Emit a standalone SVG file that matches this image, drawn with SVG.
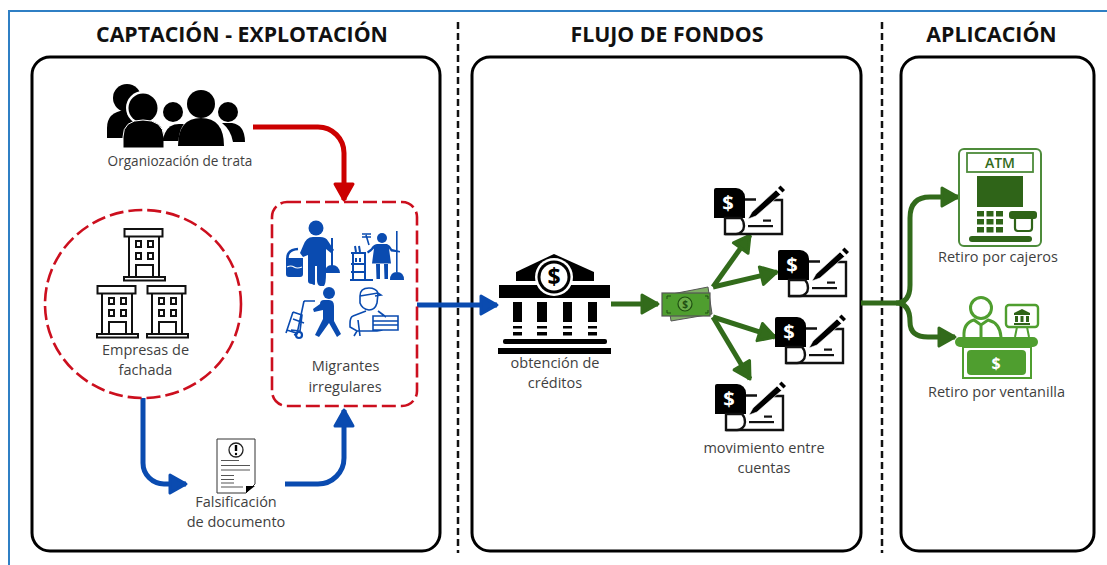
<svg xmlns="http://www.w3.org/2000/svg" xmlns:xlink="http://www.w3.org/1999/xlink" width="1107" height="565" viewBox="0 0 1107 565">
<style>
text{font-family:"Open Sans","Liberation Sans",sans-serif;fill:#3f3f3f;font-size:14.5px;text-anchor:middle}
.title{font-size:21.3px;font-weight:700;fill:#111}
.panel{fill:#fff;stroke:#000;stroke-width:3}
.sep{fill:none;stroke:#111;stroke-width:2.5;stroke-dasharray:7 4}
.reddash{fill:none;stroke:#cc0f1e;stroke-width:2.6;stroke-dasharray:14 5}
.conn{fill:none;stroke-width:5}
.red{stroke:#cc0000}.blue{stroke:#0a4bb0}.green{stroke:#326b1b}
.bl{fill:#0a4bb0}.bs{fill:none;stroke:#0a4bb0;stroke-width:1.6}
.lg{fill:#4f9e2f}.ls{fill:none;stroke:#4f9e2f;stroke-width:3}
.dk{fill:none;stroke:#111;stroke-width:2}
</style>
<defs>
<marker id="hr" markerUnits="userSpaceOnUse" markerWidth="26" markerHeight="26" refX="19" refY="12" orient="auto"><path d="M3 3 L19 12 L3 21Z" fill="#cc0000" stroke="#cc0000" stroke-width="3" stroke-linejoin="round"/></marker>
<marker id="hb" markerUnits="userSpaceOnUse" markerWidth="26" markerHeight="26" refX="19" refY="12" orient="auto"><path d="M3 3 L19 12 L3 21Z" fill="#0a4bb0" stroke="#0a4bb0" stroke-width="3" stroke-linejoin="round"/></marker>
<marker id="hg" markerUnits="userSpaceOnUse" markerWidth="26" markerHeight="26" refX="19" refY="12" orient="auto"><path d="M3 3 L19 12 L3 21Z" fill="#326b1b" stroke="#326b1b" stroke-width="3" stroke-linejoin="round"/></marker>
<symbol id="check" overflow="visible">
<path d="M31 12.500H42M54 13H68V47H11" fill="none" stroke="#111" stroke-width="2.400"/>
<path d="M0 3a2 2 0 0 1 2-2H22a9 9 0 0 1 9 9V31H0Z" fill="#000"/>
<path d="M11 31V47H22a8 8 0 0 0 8-8q0-5-3-8Z" fill="#fff" stroke="#111" stroke-width="2.400"/>
<path d="M34 32l4-7L62 3l4.500 4.500L42 29Z" fill="#000" stroke="#fff" stroke-width="0.600"/>
<path d="M64 1l2.500-2.500l4.500 4.500l-2.500 2.500Z" fill="#000"/>
<rect x="34" y="38" width="25" height="2.200" fill="#111"/>
<rect x="49" y="32.500" width="8" height="2.200" fill="#111"/>
<text x="14" y="23" style="font-size:20px;font-weight:700;fill:#fff">$</text>
</symbol>
<symbol id="bldg" overflow="visible">
<rect x="1.500" y="1" width="38" height="7.500" fill="#fff" stroke="#111" stroke-width="2"/>
<path d="M6 8.500V49M36 8.500V49" class="dk"/>
<rect x="1" y="49" width="41" height="3.500" fill="#fff" stroke="#111" stroke-width="2"/>
<path d="M13 49V37H30V49" class="dk"/>
<g fill="#fff" stroke="#111" stroke-width="2"><rect x="13" y="13" width="5" height="6"/><rect x="25" y="13" width="5" height="6"/><rect x="13" y="25" width="5" height="6"/><rect x="25" y="25" width="5" height="6"/></g>
</symbol>
</defs>
<rect width="1107" height="565" fill="#fff"/>
<path d="M9 565V11H1107" fill="none" stroke="#2f7fc4" stroke-width="2"/>
<text class="title" x="242" y="42">CAPTACIÓN - EXPLOTACIÓN</text>
<text class="title" x="667" y="42">FLUJO DE FONDOS</text>
<text class="title" x="991.500" y="42">APLICACIÓN</text>
<rect class="panel" x="32" y="57" width="408" height="494" rx="18"/>
<rect class="panel" x="472" y="57" width="389" height="494" rx="18"/>
<rect class="panel" x="901" y="57" width="193" height="494" rx="18"/>
<path class="sep" d="M458 22V553"/>
<path class="sep" d="M882 22V553"/>

<g id="connectors">
<path class="conn red" marker-end="url(#hr)" d="M253 127H318a26 26 0 0 1 26 26V200"/>
<path class="conn blue" marker-end="url(#hb)" d="M417 305H497"/>
<path class="conn blue" marker-end="url(#hb)" d="M143 398V463a21 21 0 0 0 21 21H186"/>
<path class="conn blue" marker-end="url(#hb)" d="M285 484H318a26 26 0 0 0 26-26V410"/>
<path class="conn green" marker-end="url(#hg)" d="M611 304H658"/>
<path class="conn green" marker-end="url(#hg)" d="M713 287L750 235"/>
<path class="conn green" marker-end="url(#hg)" d="M713 287L777 272"/>
<path class="conn green" marker-end="url(#hg)" d="M713 317L775 337"/>
<path class="conn green" marker-end="url(#hg)" d="M713 317L750 379"/>
<path class="conn green" marker-end="url(#hg)" d="M861 303H896Q910 303 910 285V218Q910 197 930 197H958"/>
<path class="conn green" marker-end="url(#hg)" d="M896 303Q910 303 910 322Q910 337 928 337H955"/>
</g>

<g id="organizacion">
<circle cx="127" cy="98" r="14"/><path d="M107 138V128q0-16 18-18h10v28Z"/>
<circle cx="143" cy="108" r="17" fill="#fff"/><circle cx="143" cy="108" r="14.500"/>
<path d="M123 148V137q0-17 20-17t21 17v11Z" stroke="#fff" stroke-width="1"/>
<circle cx="173" cy="112" r="10"/><path d="M162 141l3-8q4-9 14-9h14l-12 17Z"/>
<path d="M178 148q0-32 23-32t23 32Z" fill="#fff"/>
<circle cx="201" cy="104" r="14"/><path d="M178 146q0-28 23-28t23 28Z"/>
<circle cx="228" cy="112" r="10"/><path d="M222 123h10q13 2 13 19h-12q-2-12-11-19Z"/>
<text x="180" y="166" style="font-size:13.600px">Organiozación de trata</text>
</g>

<g id="empresas">
<ellipse class="reddash" cx="143" cy="304" rx="98" ry="94"/>
<use xlink:href="#bldg" href="#bldg" x="123" y="228"/>
<use xlink:href="#bldg" href="#bldg" x="96" y="285"/>
<use xlink:href="#bldg" href="#bldg" x="146" y="285"/>
<text x="145.500" y="355">Empresas de</text>
<text x="145.500" y="375">fachada</text>
</g>

<g id="migrantes">
<rect class="reddash" x="272" y="202" width="145" height="204" rx="15"/>
<circle class="bl" cx="316" cy="228" r="7.500"/>
<path class="bl" d="M303 246q3-9 10-9h7q6 0 8 4l6 9-3 3-5-4v24q0 11-2 13h-4q-3-1-3-6V266h-2v18q0 2-3 0-4 0-4-3V255l-5 2-3-4Z"/>
<path class="bs" style="stroke-width:2.600" d="M288 262q-3-12 10-13"/>
<path class="bl" d="M286 258h17v16q0 3-3 3h-11q-3 0-3-3Z"/>
<path d="M287 267q4-2 7 0t8 0" fill="none" stroke="#fff" stroke-width="1.200"/>
<rect class="bl" x="331" y="238" width="2" height="28"/>
<path class="bl" d="M325 273q0-8 7-8t8 8Z"/>
<circle class="bl" cx="382" cy="238" r="5"/>
<path class="bl" d="M377 244h10q3 1 5 5l8 2v1.500l-9-1-2-3 2 15h-19l2-15-3 3-3 2-1-2 4-3q2-4 6-4.500Z"/>
<path class="bl" d="M376 264h4v15h-3.500ZM384 264h4v15h-3.500Z"/>
<rect class="bl" x="396" y="231" width="1.600" height="41"/>
<path class="bl" d="M390 280q0-8 7-8t7 8Z"/>
<path class="bs" style="stroke-width:2" d="M351 253h15M351 264h14M351 272h14M353 253v26M365 253v26M350 280h23"/>
<path class="bs" d="M362 234h9M366 235l3 10M362 237h9"/>
<path class="bs" style="stroke-width:2" d="M355 246l1 6M359 246l1 6M356 258v4M360 258v4"/>
<circle class="bl" cx="329" cy="293" r="6"/>
<path class="bl" d="M320 304q0-4 4-4h5q5 0 5 6v15l7 13-4 3-8-14-10 14-4-2 8-16v-9l-9 2-1-3Z"/>
<path class="bs" d="M286 333l7-21M293 312l9 3-2 16-9-1M304 301l11 0M304 301l-7 33-3 1M287 330l9 3"/>
<path class="bs" d="M293 319l11 4"/>
<circle class="bs" style="stroke-width:2.200" cx="299" cy="335" r="3"/>
<path class="bs" d="M360 296q0-8 9-8q7 0 9 5l-1 10q-2 7-8 7-7-1-9-7v-7ZM360 296l18-3 3 2-6 1"/>
<path class="bs" d="M366 311l-13 5q-3 1-3 8v3l7 4h20l6-1M378 311l8 6M358 320l2 16M373 316h25v14h-25ZM373 321h25M373 325h25M357 331l-3 5"/>
<text x="345.500" y="371">Migrantes</text>
<text x="345" y="392">irregulares</text>
</g>

<g id="documento">
<path d="M217 439H255V484L246 493H217Z" fill="#fff" stroke="#333" stroke-width="1"/>
<path d="M246 493V486L255 486Z" fill="#000"/>
<circle cx="236" cy="450" r="7" fill="none" stroke="#222" stroke-width="1.300"/>
<path d="M236 445v6" stroke="#000" stroke-width="2.400"/><circle cx="236" cy="454" r="1.200"/>
<path d="M221 460.500h18M221 465.500h29M221 470h29M221 475.500h13M221 479.500h13M221 483h13M221 487h22" stroke="#555" stroke-width="1.100"/>
<text x="236" y="507">Falsificación</text>
<text x="236" y="527">de documento</text>
</g>

<g id="creditos">
<path d="M516 281V272L554 254L594 272V281Z"/>
<rect x="499" y="285" width="111" height="13"/>
<circle cx="554" cy="277" r="19" fill="#fff"/>
<circle cx="554" cy="277" r="16.500" fill="#000"/>
<circle cx="554" cy="277" r="13.500" fill="#fff"/>
<text x="554" y="285" style="font-size:23px;font-weight:700;fill:#000">$</text>
<g><rect x="513" y="302" width="9" height="20"/><rect x="537" y="302" width="10" height="20"/><rect x="563" y="302" width="9" height="20"/><rect x="588" y="302" width="9" height="20"/>
<rect x="513" y="326" width="9" height="2.500"/><rect x="537" y="326" width="10" height="2.500"/><rect x="563" y="326" width="9" height="2.500"/><rect x="588" y="326" width="9" height="2.500"/>
<rect x="513" y="332" width="9" height="3.500"/><rect x="537" y="332" width="10" height="3.500"/><rect x="563" y="332" width="9" height="3.500"/><rect x="588" y="332" width="9" height="3.500"/>
<rect x="503" y="339" width="104" height="5" rx="2"/><rect x="498" y="348" width="113" height="6"/></g>
<text x="555" y="368">obtención de</text>
<text x="555" y="388">créditos</text>
</g>

<g id="dinero">
<path d="M667 295L708 287L712 314L671 321Z" fill="#7fae66" stroke="#555" stroke-width="1"/>
<rect x="662" y="293" width="48" height="23" fill="#4f9e2f" stroke="#555" stroke-width="1.200"/>
<path d="M667 299v-3h4M705 296h3v3M667 310v3h4M705 313h3v-3" fill="none" stroke="#1f4f12" stroke-width="1"/>
<circle cx="685" cy="304" r="7" fill="#6cae4a" stroke="#1f4f12" stroke-width="1.200"/>
<text x="685" y="308" style="font-size:10px;font-weight:700;fill:#1f4f12">$</text>
</g>

<g id="cheques">
<use xlink:href="#check" href="#check" x="714" y="187"/>
<use xlink:href="#check" href="#check" x="778" y="249"/>
<use xlink:href="#check" href="#check" x="775" y="316"/>
<use xlink:href="#check" href="#check" x="715" y="383"/>
<text x="764" y="453">movimiento entre</text>
<text x="764" y="473">cuentas</text>
</g>

<g id="cajeros">
<rect x="959" y="149" width="82" height="97" rx="5" fill="#fff" stroke="#4d8b3a" stroke-width="2"/>
<rect x="967" y="153" width="66" height="19" fill="#fff" stroke="#4d8b3a" stroke-width="1.800"/>
<text x="1000" y="168" style="font-size:14px;font-weight:600;fill:#326b1b">ATM</text>
<g fill="#2f6418"><rect x="977" y="176" width="46" height="31"/>
<rect x="977" y="211" width="7" height="5.500"/><rect x="986.500" y="211" width="7" height="5.500"/><rect x="996" y="211" width="7" height="5.500"/>
<rect x="977" y="219" width="7" height="5.500"/><rect x="986.500" y="219" width="7" height="5.500"/><rect x="996" y="219" width="7" height="5.500"/>
<rect x="977" y="227" width="7" height="5.500"/><rect x="986.500" y="227" width="7" height="5.500"/><rect x="996" y="227" width="7" height="5.500"/>
<rect x="1009" y="211" width="28" height="8" rx="3"/><rect x="969" y="236" width="63" height="6" rx="3"/></g>
<path d="M1015 219V228q0 3 3 3H1029q3 0 3-3V219" fill="#fff" stroke="#2f6418" stroke-width="2.200"/>
<text x="998" y="262">Retiro por cajeros</text>
</g>

<g id="ventanilla">
<circle class="ls" cx="981" cy="308" r="10.500"/>
<path class="ls" d="M964 337q-1-14 10-17l7 5 7-5q12 3 13 17M981 325v12"/>
<rect x="1006" y="305" width="32" height="22" rx="3" fill="#fff" stroke="#4f9e2f" stroke-width="2.400"/>
<path d="M1017 327l-2 10M1027 327l2 10" class="ls" style="stroke-width:2"/>
<path d="M1022 309l8 4v2h-16v-2ZM1015 316h3v6h-3ZM1020.500 316h3v6h-3ZM1026 316h3v6h-3ZM1014 323h16v2h-16Z" fill="#2f6418"/>
<rect x="955" y="337" width="83" height="10" rx="5" class="lg"/>
<rect x="963" y="347" width="68" height="31" fill="#fff" stroke="#4f9e2f" stroke-width="2"/>
<rect x="967" y="350" width="59" height="25" rx="4" class="lg"/>
<text x="996" y="369" style="font-size:16px;font-weight:700;fill:#fff">$</text>
<text x="996.500" y="397">Retiro por ventanilla</text>
</g>
</svg>
